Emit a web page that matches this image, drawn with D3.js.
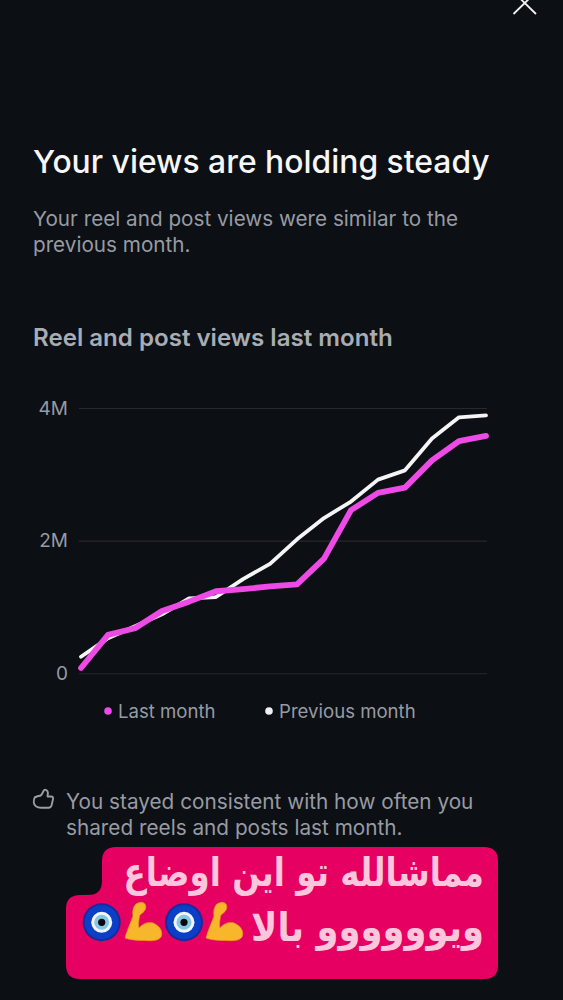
<!DOCTYPE html>
<html><head><meta charset="utf-8">
<script src="https://cdn.jsdelivr.net/npm/d3@7/dist/d3.min.js"></script>
<style>html,body{margin:0;padding:0;background:#0c0f14;overflow:hidden}svg{display:block}text{font-family:Inter,"Noto Sans",sans-serif}</style>
</head><body><svg id="c" width="563" height="1000"></svg>
<script>
const days = d3.range(1, 17);
const lastMonth = [0.08,0.58,0.68,0.94,1.08,1.237,1.27,1.31,1.34,1.73,2.46,2.72,2.80,3.21,3.50,3.58];
const previousMonth = [0.25,0.53,0.71,0.89,1.13,1.15,1.42,1.65,2.02,2.34,2.59,2.92,3.06,3.54,3.86,3.89];
const yTicks = [0, 2, 4];
const yTickLabels = ["0", "2M", "4M"];
const legendLabels = ["Last month", "Previous month"];

const svg = d3.select("#c");
svg.append("rect").attr("width",563).attr("height",1000).attr("fill","#0c0f14");

const x = d3.scaleLinear().domain([1,16]).range([81,486]);
const y = d3.scaleLinear().domain([0,4]).range([673.3,408]);
const muted = "#979ba3";
const txt = (s,px,py,size,fill,weight) => svg.append("text").attr("x",px).attr("y",py).attr("font-size",size).attr("fill",fill).attr("font-weight",weight||400).text(s);

svg.append("path").attr("d","M513.5 -8 L536 14 M536 -8 L513.5 14").attr("stroke","#f2f2f2").attr("stroke-width",1.8).attr("fill","none");

txt("Your views are holding steady",33,173,31.85,"#f6f6f6",500);
txt("Your reel and post views were similar to the",33,226,20.7,muted);
txt("previous month.",33,252,20.7,muted);
txt("Reel and post views last month",33,346,24.1,"#a8acb3",600);

const axis = d3.axisLeft(y).tickValues(yTicks).tickFormat((d,i)=>yTickLabels[i]).tickSize(-408).tickPadding(11);
const g = svg.append("g").attr("transform","translate(79,0)").call(axis);
g.select(".domain").remove();
g.selectAll(".tick line").attr("stroke","#26292e").attr("stroke-width",1.1);
g.selectAll(".tick text").attr("font-size",19).attr("fill",muted).style("font-family","Inter");

const line = d3.line().x((d,i)=>x(days[i])).y(d=>y(d)).curve(d3.curveLinear);
svg.append("path").datum(previousMonth).attr("d",line).attr("fill","none").attr("stroke","#f5f5f5").attr("stroke-width",3.8).attr("stroke-linecap","round").attr("stroke-linejoin","round");
svg.append("path").datum(lastMonth).attr("d",line).attr("fill","none").attr("stroke","#ee4ae6").attr("stroke-width",5.8).attr("stroke-linecap","round").attr("stroke-linejoin","round");

const legendX = [108,269], legendColors = ["#ee4ae6","#f0f0f4"];
legendLabels.forEach((l,i)=>{
  svg.append("circle").attr("cx",legendX[i]).attr("cy",711).attr("r",3.8).attr("fill",legendColors[i]);
  txt(l,legendX[i]+10,718,18.6,muted);
});

svg.append("path").attr("d","M36 797 q1 -1 3 -1 q2 0 3 -2 l1.5 -3 q1 -1.8 2.6 -1 q2 1 1.8 3.5 l-0.4 3 h3.5 q2.5 0 2 2.6 l-1.4 6.2 q-0.6 2.4 -3 2.4 h-7.5 q-6.5 0 -7.3 -5 q-0.4 -3.2 1.2 -5.7 z").attr("fill","none").attr("stroke","#9a9ea5").attr("stroke-width",1.9).attr("stroke-linejoin","round");

txt("You stayed consistent with how often you",66,809,20.75,muted);
txt("shared reels and posts last month.",66,835,20.75,muted);

svg.append("path").attr("d","M116 847 H484 Q498 847 498 861 V965 Q498 979 484 979 H80 Q66 979 66 965 V909 Q66 895 80 895 H88 Q102 895 102 881 V861 Q102 847 116 847 Z").attr("fill","#e60061");
const ar = (s,px,py,size,sx)=>svg.append("text").attr("transform",`translate(${px},${py}) scale(${sx},1)`).attr("text-anchor","start").attr("direction","rtl").attr("font-size",size).attr("fill","#fcc6dc").attr("font-weight",700).style("font-family","'DejaVu Sans'").text(s);
ar("مماشالله تو این اوضاع",484,886,40,0.814);
ar("ویوووووو بالا",484,941,40,0.886);

function nazar(cx,cy){
  [[19,"#1a2a9a"],[17,"#0b3fc8"],[10.5,"#f0f6fb"],[7.5,"#86c8e4"],[3.6,"#080810"]].forEach(([r,f])=>svg.append("circle").attr("cx",cx).attr("cy",cy).attr("r",r).attr("fill",f));
}
function muscle(px,py){
  svg.append("path").attr("transform",`translate(${px},${py})`)
   .attr("d","M0 36 C2 28 6 20 8 14 C7 8 9 2 13 1 C18 -1 22 2 20.5 7 C19 11 15 12 14.5 14 C14 18 13 22 14 26 C18 21 25 19 30 22 C36 25 38 31 36 35 C33 39 27 39 20 38.5 C12 38.5 5 38 0 36 Z")
   .attr("fill","#f8b62c").attr("stroke","#e09a18").attr("stroke-width",0.7);
}
nazar(101.7,922.3); muscle(125,902); nazar(184,922.3); muscle(206,902);
</script></body></html>
